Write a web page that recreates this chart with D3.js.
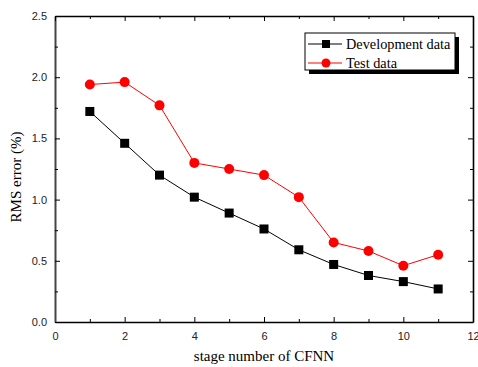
<!DOCTYPE html>
<html>
<head>
<meta charset="utf-8">
<script src="https://cdn.jsdelivr.net/npm/d3@7"></script>
<style>
body { margin: 0; background: #fff; }
svg { display: block; }
</style>
</head>
<body>
<svg width="478" height="367"></svg>
<script>
const stages = [1, 2, 3, 4, 5, 6, 7, 8, 9, 10, 11];
const devData = [1.72, 1.46, 1.20, 1.02, 0.89, 0.76, 0.59, 0.47, 0.38, 0.33, 0.27];
const testData = [1.94, 1.96, 1.77, 1.30, 1.25, 1.20, 1.02, 0.65, 0.58, 0.46, 0.55];
const xTicks = [0, 2, 4, 6, 8, 10, 12];
const yTicks = [0.0, 0.5, 1.0, 1.5, 2.0, 2.5];
const seriesNames = ["Development data", "Test data"];

const svg = d3.select("svg");
const pLeft = 55, pRight = 473, pTop = 16, pBottom = 322;

const x = d3.scaleLinear().domain([0, 12]).range([pLeft, pRight]);
const y = d3.scaleLinear().domain([0, 2.5]).range([pBottom, pTop]);

const isMajorY = d => yTicks.some(t => Math.abs(t - d) < 1e-6);
const isMajorX = d => xTicks.includes(d);
const serif = "Liberation Serif, Times New Roman, serif";

// axes (ticks point inward)
const tickFont = "Liberation Sans, Arial, sans-serif";
const xAxis = svg.append("g").attr("transform", `translate(0,${pBottom})`)
  .call(d3.axisBottom(x).tickValues(d3.range(0, 13, 1)).tickSizeInner(-5).tickSizeOuter(0)
    .tickFormat(d => isMajorX(d) ? d : ""));
xAxis.selectAll(".tick line").attr("y2", d => isMajorX(d) ? -5 : -3);
xAxis.selectAll("text").attr("y", 10).attr("dy", "0.71em");

const yAxis = svg.append("g").attr("transform", `translate(${pLeft},0)`)
  .call(d3.axisLeft(y).tickValues(d3.range(0, 2.51, 0.25)).tickSizeInner(-5).tickSizeOuter(0)
    .tickFormat(d => isMajorY(d) ? d3.format(".1f")(d) : ""));
yAxis.selectAll(".tick line").attr("x2", d => isMajorY(d) ? 5 : 3);
yAxis.selectAll("text").attr("x", -8);

const topAxis = svg.append("g").attr("transform", `translate(0,${pTop})`)
  .call(d3.axisTop(x).tickValues(d3.range(0, 13, 1)).tickSizeOuter(0).tickFormat(""));
topAxis.selectAll(".tick line").attr("y2", d => isMajorX(d) ? 5 : 3);

const rightAxis = svg.append("g").attr("transform", `translate(${pRight},0)`)
  .call(d3.axisRight(y).tickValues(d3.range(0, 2.51, 0.25)).tickSizeOuter(0).tickFormat(""));
rightAxis.selectAll(".tick line").attr("x2", d => isMajorY(d) ? -5 : -3);

svg.selectAll(".domain").attr("stroke", "#000").attr("stroke-width", 1.6);
yAxis.select(".domain").attr("stroke", "#444").attr("stroke-width", 2);
svg.selectAll(".tick line").attr("stroke", "#000").attr("stroke-width", 1);
svg.selectAll(".tick text").attr("font-family", tickFont).attr("font-size", 11).attr("fill", "#222");

// axis titles
svg.append("text")
  .attr("x", (pLeft + pRight) / 2).attr("y", 361)
  .attr("text-anchor", "middle")
  .attr("font-family", serif).attr("font-size", 15)
  .text("stage number of CFNN");
svg.append("text")
  .attr("transform", `translate(21,177) rotate(-90)`)
  .attr("text-anchor", "middle")
  .attr("font-family", serif).attr("font-size", 15)
  .text("RMS error (%)");

const line = d3.line().x((d, i) => x(stages[i])).y(d => y(d));

// development series
svg.append("path").datum(devData).attr("d", line)
  .attr("fill", "none").attr("stroke", "#000").attr("stroke-width", 1);
svg.selectAll(".dev").data(devData).enter().append("rect")
  .attr("x", (d, i) => x(stages[i]) - 4.5).attr("y", d => y(d) - 4.5)
  .attr("width", 9).attr("height", 9).attr("fill", "#000");

// test series
svg.append("path").datum(testData).attr("d", line)
  .attr("fill", "none").attr("stroke", "#f00").attr("stroke-width", 1);
svg.selectAll(".test").data(testData).enter().append("circle")
  .attr("cx", (d, i) => x(stages[i])).attr("cy", d => y(d))
  .attr("r", 5).attr("fill", "#f00");

// legend
const lg = svg.append("g");
lg.append("rect").attr("x", 309).attr("y", 37).attr("width", 150).attr("height", 37).attr("fill", "#000");
lg.append("rect").attr("x", 305).attr("y", 33).attr("width", 150).attr("height", 37)
  .attr("fill", "#fff").attr("stroke", "#000").attr("stroke-width", 1);
seriesNames.forEach((name, i) => {
  const ly = 44 + i * 19;
  lg.append("line").attr("x1", 308).attr("x2", 342).attr("y1", ly).attr("y2", ly)
    .attr("stroke", i === 0 ? "#000" : "#f00").attr("stroke-width", 1);
  if (i === 0) {
    lg.append("rect").attr("x", 326 - 4).attr("y", ly - 4).attr("width", 8).attr("height", 8).attr("fill", "#000");
  } else {
    lg.append("circle").attr("cx", 326).attr("cy", ly).attr("r", 4.5).attr("fill", "#f00");
  }
  lg.append("text").attr("x", 346).attr("y", ly).attr("dy", "0.35em")
    .attr("font-family", serif).attr("font-size", 14.3)
    .text(name);
});
</script>
</body>
</html>
